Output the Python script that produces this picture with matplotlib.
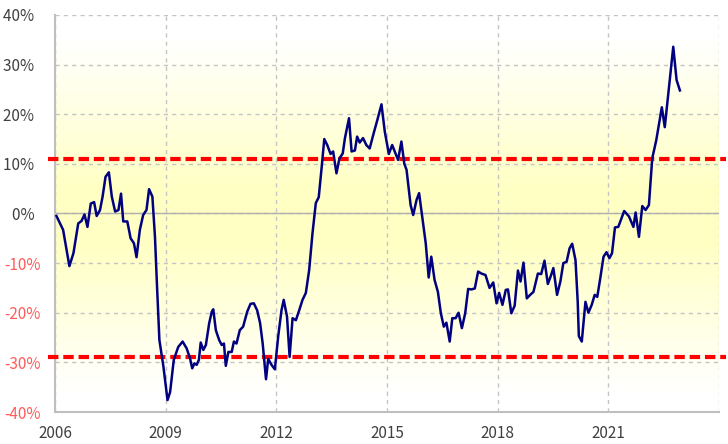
import matplotlib
matplotlib.use("Agg")
import matplotlib.pyplot as plt
import numpy as np
from matplotlib.colors import LinearSegmentedColormap

# values (decimal year, % change)
years = [2006.04, 2006.22, 2006.39, 2006.50, 2006.63, 2006.72, 2006.80, 2006.88, 2006.97,
         2007.06, 2007.13, 2007.22, 2007.29, 2007.37, 2007.46, 2007.54, 2007.63, 2007.72,
         2007.79, 2007.85, 2007.96, 2008.05, 2008.14, 2008.21, 2008.30, 2008.39, 2008.48,
         2008.55, 2008.64, 2008.71, 2008.77, 2008.83, 2008.94, 2009.05, 2009.12, 2009.22,
         2009.34, 2009.46, 2009.57, 2009.66, 2009.72, 2009.78, 2009.84, 2009.90, 2009.95,
         2010.02, 2010.09, 2010.18, 2010.25, 2010.29, 2010.36, 2010.45, 2010.52, 2010.58,
         2010.63, 2010.70, 2010.79, 2010.85, 2010.92, 2011.01, 2011.10, 2011.21, 2011.30,
         2011.39, 2011.48, 2011.56, 2011.63, 2011.72, 2011.78, 2011.87, 2011.96, 2012.05,
         2012.14, 2012.20, 2012.29, 2012.36, 2012.44, 2012.53, 2012.62, 2012.71, 2012.80,
         2012.89, 2012.98, 2013.07, 2013.15, 2013.23, 2013.30, 2013.38, 2013.47, 2013.54,
         2013.63, 2013.71, 2013.80, 2013.86, 2013.97, 2014.04, 2014.13, 2014.19, 2014.26,
         2014.35, 2014.44, 2014.53, 2014.64, 2014.74, 2014.85, 2014.94, 2015.05, 2015.14,
         2015.21, 2015.30, 2015.39, 2015.47, 2015.53, 2015.64, 2015.71, 2015.80, 2015.87,
         2015.96, 2016.05, 2016.13, 2016.20, 2016.29, 2016.38, 2016.46, 2016.54, 2016.61,
         2016.70, 2016.77, 2016.86, 2016.94, 2017.03, 2017.12, 2017.20, 2017.29, 2017.38,
         2017.47, 2017.56, 2017.67, 2017.78, 2017.88, 2017.97, 2018.04, 2018.13, 2018.22,
         2018.28, 2018.37, 2018.46, 2018.55, 2018.62, 2018.70, 2018.79, 2018.88, 2018.97,
         2019.09, 2019.18, 2019.27, 2019.36, 2019.45, 2019.51, 2019.61, 2019.70, 2019.78,
         2019.87, 2019.95, 2020.02, 2020.11, 2020.17, 2020.20, 2020.28, 2020.38, 2020.46,
         2020.55, 2020.63, 2020.70, 2020.78, 2020.87, 2020.95, 2021.03, 2021.10, 2021.18,
         2021.27, 2021.43, 2021.56, 2021.68, 2021.74, 2021.83, 2021.92, 2022.01, 2022.10,
         2022.19, 2022.30, 2022.45, 2022.53, 2022.64, 2022.76, 2022.85, 2022.94]
values = [-0.5, -3.3, -10.6, -8.0, -2.0, -1.5, -0.2, -2.7, 2.0,
          2.3, -0.5, 0.7, 3.4, 7.4, 8.3, 3.4, 0.4, 0.7,
          4.0, -1.6, -1.6, -5.0, -6.0, -8.8, -3.3, -0.3, 0.7,
          4.9, 3.4, -4.7, -15.4, -25.5, -30.9, -37.6, -36.0, -29.5,
          -26.9, -25.8, -27.2, -29.2, -31.2, -30.2, -30.5, -29.5, -26.0,
          -27.5, -26.5, -22.1, -19.8, -19.3, -23.5, -25.5, -26.5, -26.2,
          -30.7, -27.9, -27.9, -25.8, -26.2, -23.5, -22.8, -19.8, -18.2,
          -18.1, -19.5, -22.1, -26.2, -33.4, -29.3, -30.5, -31.4, -24.8,
          -19.5, -17.4, -20.8, -28.9, -21.1, -21.5, -19.5, -17.4, -16.0,
          -11.4, -4.0, 2.1, 3.3, 9.4, 15.0, 13.8, 12.0, 12.5,
          8.1, 11.1, 12.1, 15.2, 19.2, 12.5, 12.7, 15.5, 14.3,
          15.2, 13.8, 13.1, 16.2, 18.9, 22.0, 16.5, 12.0, 13.8,
          12.5, 10.8, 14.5, 10.0, 8.8, 1.7, -0.3, 2.7, 4.1,
          -1.0, -6.0, -12.9, -8.7, -13.4, -15.8, -20.1, -22.8, -22.0,
          -25.8, -21.1, -21.1, -20.0, -23.1, -20.1, -15.2, -15.3, -15.1,
          -11.7, -12.1, -12.4, -15.0, -13.9, -18.1, -16.0, -18.4, -15.4,
          -15.3, -20.1, -18.6, -11.5, -13.7, -9.9, -17.1, -16.4, -15.8,
          -12.1, -12.2, -9.5, -14.2, -12.4, -11.0, -16.4, -13.7, -10.0,
          -9.7, -7.0, -6.1, -9.4, -17.8, -24.7, -25.8, -17.8, -20.0,
          -18.4, -16.4, -16.8, -13.1, -8.7, -7.8, -9.0, -8.0, -2.8,
          -2.7, 0.5, -0.6, -2.7, 0.2, -4.7, 1.5, 0.7, 1.7,
          11.1, 14.8, 21.4, 17.4, 25.2, 33.6, 26.9, 24.8]

upper_band = 11
lower_band = -29
x_ticks = [2006, 2009, 2012, 2015, 2018, 2021, 2024]
x_labels = ["2006", "2009", "2012", "2015", "2018", "2021", ""]
y_ticks = [-40, -30, -20, -10, 0, 10, 20, 30, 40]

plt.rcParams['font.family'] = ['Noto Sans CJK KR', 'DejaVu Sans']
plt.rcParams['lines.scale_dashes'] = False

fig = plt.figure(figsize=(7.28, 4.44), dpi=100)
ax = fig.add_axes([55 / 728, 32 / 444, 664 / 728, 397 / 444])
ax.set_xlim(2006, 2024)
ax.set_ylim(-40, 40)

# background gradient: white at top/bottom, pale yellow around the middle
cmap = LinearSegmentedColormap.from_list(
    "bg", [(0.0, "#FFFFFF"), (0.06, "#FFFFFF"), (0.44, "#FFFFC4"), (0.58, "#FFFFC4"), (0.95, "#FFFFFF"), (1.0, "#FFFFFF")])
grad = np.linspace(0, 1, 256).reshape(-1, 1)
ax.imshow(grad, cmap=cmap, aspect="auto", extent=[2006, 2024, -40, 40],
          origin="upper", zorder=0)

ax.set_xticks(x_ticks)
ax.set_xticklabels(x_labels)
ax.set_yticks(y_ticks)
# positive labels sit a little further left in the original
ax.set_yticklabels([f"{v}%" if v < 0 else f"{v}%  " for v in y_ticks])
for lbl, v in zip(ax.get_yticklabels(), y_ticks):
    lbl.set_color("#FF5B5B" if v < 0 else "#404040")
for lbl in ax.get_xticklabels():
    lbl.set_color("#404040")
ax.tick_params(axis="both", length=0, labelsize=11)
ax.tick_params(axis="y", pad=10)
ax.tick_params(axis="x", pad=9)

ax.grid(True, color="#C4C4C4", linestyle=(0, (3, 3)), linewidth=1, zorder=1)
for side in ["top", "right"]:
    ax.spines[side].set_visible(False)
for side in ["left", "bottom"]:
    ax.spines[side].set_color("#BFBFBF")
    ax.spines[side].set_linewidth(1.5)

ax.axhline(0, color="#AFAFAF", linewidth=1, zorder=2)

# dashed red bands, running a bit past the plot edges
for level in [upper_band, lower_band]:
    ax.plot([-0.011, 1.011], [level, level], color="#FF0000", linewidth=3,
            dashes=(7.5, 3.5), transform=ax.get_yaxis_transform(),
            clip_on=False, zorder=3)

ax.plot(years, values, color="#000080", linewidth=1.8, zorder=4)

fig.savefig("out.png", dpi=100)
